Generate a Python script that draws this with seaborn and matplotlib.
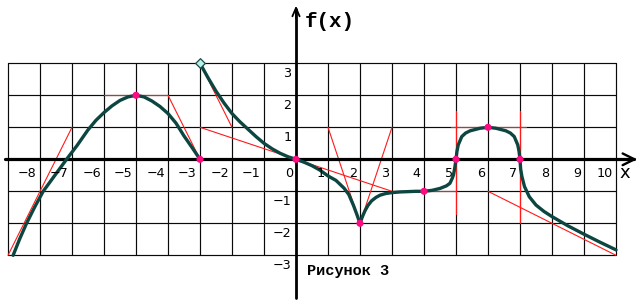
import matplotlib
matplotlib.use('Agg')
import matplotlib.pyplot as plt
import seaborn as sns
import pandas as pd

# ---------------- data ----------------
x_tick_labels = [-8, -7, -6, -5, -4, -3, -2, -1, 0, 1, 2, 3, 4, 5, 6, 7, 8, 9, 10]
y_tick_labels = [3, 2, 1, -1, -2, -3]
grid_x = list(range(-9, 11))
grid_y = list(range(-3, 4))

# left hump of f(x)
hump_x = [-8.84, -8.64, -8.42, -8.17, -7.9, -7.55, -7.17, -6.85, -6.5, -6.25, -6.0,
          -5.75, -5.5, -5.25, -5.0, -4.75, -4.5, -4.25, -4.0, -3.75, -3.5, -3.25, -3.0]
hump_y = [-3.0, -2.5, -2.0, -1.5, -1.0, -0.52, 0.0, 0.42, 0.92, 1.22, 1.46,
          1.67, 1.84, 1.95, 2.0, 1.95, 1.82, 1.65, 1.43, 1.13, 0.73, 0.37, 0.0]

# main branch of f(x), starting at the open point (-3, 3)
main_x = [-3.0, -2.75, -2.5, -2.25, -2.0, -1.75, -1.5, -1.25, -1.0, -0.75, -0.5, -0.25,
          0.0, 0.25, 0.5, 0.75, 1.0, 1.25, 1.5, 1.65, 1.8, 1.9, 2.0,
          2.08, 2.16, 2.25, 2.36, 2.5, 2.63, 2.8, 3.0, 3.25, 3.5, 3.75, 4.0,
          4.25, 4.5, 4.7, 4.81, 4.88, 4.92, 4.96, 5.0, 5.03, 5.07, 5.18, 5.3, 5.44,
          5.75, 6.0, 6.25, 6.56, 6.7, 6.82, 6.93, 6.97, 7.0, 7.02, 7.06, 7.14,
          7.29, 7.5, 7.75, 8.0, 8.5, 9.0, 9.5, 10.0]
main_y = [3.0, 2.55, 2.13, 1.76, 1.43, 1.17, 0.94, 0.71, 0.5, 0.33, 0.19, 0.08,
          0.0, -0.09, -0.2, -0.34, -0.52, -0.66, -0.9, -1.1, -1.45, -1.72, -2.0,
          -1.78, -1.6, -1.44, -1.3, -1.19, -1.12, -1.07, -1.04, -1.02, -1.01, -1.0, -1.0,
          -0.97, -0.91, -0.83, -0.75, -0.6, -0.49, -0.28, 0.0, 0.25, 0.45, 0.71, 0.82, 0.89,
          0.97, 1.0, 0.97, 0.89, 0.82, 0.71, 0.45, 0.25, 0.0, -0.3, -0.54, -0.85,
          -1.17, -1.43, -1.63, -1.79, -2.08, -2.34, -2.59, -2.83]

# marked points
key_x = [-5, -3, 0, 2, 4, 5, 6, 7]
key_y = [2, 0, 0, -2, -1, 0, 1, 0]
open_x = [-3]
open_y = [3]

# red tangent / helper lines
red_seg = [0, 0, 1, 1, 2, 2, 3, 3, 4, 4, 5, 5, 5, 6, 6, 7, 7, 8, 8, 9, 9, 10, 10]
red_x = [-9, -7, -6, -4, -4, -3, -3, -2, -3, 3, 1, 2, 3, 3, 5, 5, 5, 4.85, 7.2, 7, 7, 6, 10]
red_y = [-3, 1, 2, 2, 2, 0, 3, 1, 1, -1, 1, -2, 1, -1, -1, 1.5, -1.7, 1, 1, 1.5, -2, -1, -3]

# ---------------- plot ----------------
sns.set_style('white')
plt.rcParams['font.family'] = ['DejaVu Sans']

fig = plt.figure(figsize=(6.42, 3.06), dpi=100)
ax = fig.add_axes([0, 0, 1, 1])
ax.set_xlim(-9.25, 10.8125)
ax.set_ylim(-4.584, 4.978)
ax.axis('off')

# grid
for gx in grid_x:
    if gx != 0:
        ax.plot([gx, gx], [grid_y[0], grid_y[-1]], color='#0a0a0a', lw=0.85, zorder=1)
for gy in grid_y:
    if gy != 0:
        ax.plot([grid_x[0], grid_x[-1]], [gy, gy], color='#0a0a0a', lw=0.85, zorder=1)

# red helper lines
red_df = pd.DataFrame({'x': red_x, 'y': red_y, 'seg': red_seg})
sns.lineplot(data=red_df, x='x', y='y', units='seg', estimator=None, sort=False,
             color='#ff1a1a', lw=0.8, ax=ax, zorder=2)

# axes
ax.plot([-9.08, 10.55], [0, 0], color='black', lw=2.3, zorder=3)
ax.plot([0, 0], [-4.33, 4.7], color='black', lw=2.0, zorder=3)
ax.annotate('', xy=(10.66, 0), xytext=(10.2, 0),
            arrowprops=dict(arrowstyle='->,head_length=0.85,head_width=0.42',
                            lw=1.7, color='black', shrinkA=0, shrinkB=0,
                            mutation_scale=10), zorder=3)
ax.annotate('', xy=(0, 4.80), xytext=(0, 4.4),
            arrowprops=dict(arrowstyle='->,head_length=0.6,head_width=0.26',
                            lw=1.3, color='black', shrinkA=0, shrinkB=0,
                            mutation_scale=10), zorder=3)

# curve
curve_color = '#0d4540'
hump_df = pd.DataFrame({'x': hump_x, 'y': hump_y})
main_df = pd.DataFrame({'x': main_x, 'y': main_y})
sns.lineplot(data=hump_df, x='x', y='y', sort=False, estimator=None,
             color=curve_color, lw=2.4, ax=ax, zorder=4)
sns.lineplot(data=main_df, x='x', y='y', sort=False, estimator=None,
             color=curve_color, lw=2.4, ax=ax, zorder=4)

# points
sns.scatterplot(x=key_x, y=key_y, color='#ff0a84', s=26, edgecolor='none',
                ax=ax, zorder=5)
sns.scatterplot(x=open_x, y=open_y, marker='D', color='#b8f0ea', s=24,
                edgecolor='#1f4a46', linewidth=0.9, ax=ax, zorder=5)

# tick labels
for v in x_tick_labels:
    ax.text(v - 0.1, -0.43, str(v).replace('-', '\u2212'), ha='right', va='center',
            fontsize=9.2, color='black', zorder=6)
for v in y_tick_labels:
    ax.text(-0.14, v - 0.33, str(v).replace('-', '\u2212'), ha='right', va='center',
            fontsize=9.2, color='black', zorder=6)

mono = ['Liberation Mono', 'DejaVu Sans Mono']
ax.text(1.06, 4.32, 'f(x)', ha='center', va='center', fontsize=15,
        family=mono, fontweight='bold', color='black')
ax.text(10.28, -0.43, 'x', ha='center', va='center', fontsize=13,
        color='black')
ax.text(1.64, -3.48, 'Рисунок 3', ha='center', va='center', fontsize=11,
        family=mono, fontweight='bold', color='black')

fig.savefig('out.png', dpi=100)
